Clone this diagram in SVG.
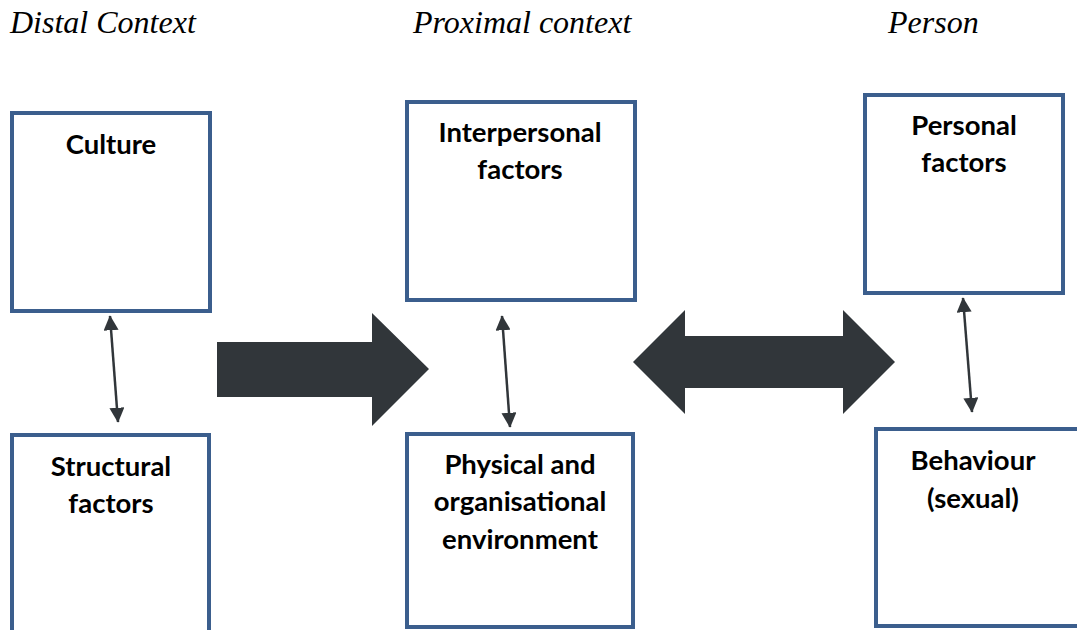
<svg xmlns="http://www.w3.org/2000/svg" width="1077" height="630" viewBox="0 0 1077 630">
<defs>
<style>
.box{fill:#fff;stroke:#3B5E8D;stroke-width:4}
.lbl{font-family:Lato,"Open Sans",sans-serif;font-weight:bold;font-size:27.5px;fill:#000;text-anchor:middle}
.hdr{font-family:"Liberation Serif",serif;font-style:italic;font-size:32px;fill:#000}
.thin{stroke:#31363A;stroke-width:2.5;fill:none;marker-start:url(#ah);marker-end:url(#ah)}
.big{fill:#31363A}
</style>
<marker id="ah" viewBox="0 0 10 10" refX="9.5" refY="5" markerWidth="15" markerHeight="15" markerUnits="userSpaceOnUse" orient="auto-start-reverse">
<path d="M0,0 L10,5 L0,10 z" fill="#31363A"/>
</marker>
</defs>
<rect width="1077" height="630" fill="#fff"/>
<g id="headers">
<text class="hdr" x="10" y="33">Distal Context</text>
<text class="hdr" x="413" y="33">Proximal context</text>
<text class="hdr" x="888" y="33">Person</text>
</g>
<g id="culture">
<rect class="box" x="12" y="113" width="198" height="198"/>
<text class="lbl" x="111" y="154">Culture</text>
</g>
<g id="structural">
<rect class="box" x="12" y="435" width="197" height="210"/>
<text class="lbl" x="111" y="476">Structural</text>
<text class="lbl" x="111" y="513">factors</text>
</g>
<g id="interpersonal">
<rect class="box" x="407" y="102" width="228" height="198"/>
<text class="lbl" x="520" y="142">Interpersonal</text>
<text class="lbl" x="520" y="179">factors</text>
</g>
<g id="physical">
<rect class="box" x="407" y="434" width="226" height="193"/>
<text class="lbl" x="520" y="474">Physical and</text>
<text class="lbl" x="520" y="511">organisational</text>
<text class="lbl" x="520" y="549">environment</text>
</g>
<g id="personal">
<rect class="box" x="865" y="95" width="198" height="198"/>
<text class="lbl" x="964" y="135">Personal</text>
<text class="lbl" x="964" y="172">factors</text>
</g>
<g id="behaviour">
<rect class="box" x="876" y="429" width="220" height="197"/>
<text class="lbl" x="973" y="470">Behaviour</text>
<text class="lbl" x="973" y="508">(sexual)</text>
</g>
<g id="connectors">
<line class="thin" x1="110" y1="316" x2="118" y2="422"/>
<line class="thin" x1="502" y1="316" x2="510" y2="427"/>
<line class="thin" x1="963" y1="298" x2="972" y2="412"/>
<polygon class="big" points="217,342 372,342 372,313 429,369 372,426 372,397 217,397"/>
<polygon class="big" points="633,362 685,310 685,336 843,336 843,310 895,362 843,414 843,388 685,388 685,414"/>
</g>
</svg>
